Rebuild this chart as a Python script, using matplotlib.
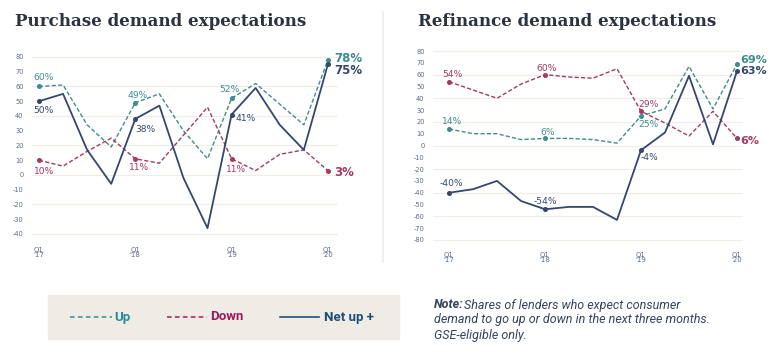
import matplotlib
matplotlib.use("Agg")
import matplotlib.pyplot as plt
from matplotlib.lines import Line2D
from matplotlib.patches import Rectangle

quarters = list(range(13))
tick_pos = [0, 4, 8, 12]
tick_labels = ["Q1\n'17", "Q1\n'18", "Q1\n'19", "Q1\n'20"]

purchase_up = [60, 61, 34, 19, 49, 55, 30, 11, 52, 62, 48, 34, 78]
purchase_down = [10, 6, 16, 25, 11, 8, 27, 46, 11, 3, 14, 17, 3]
purchase_net = [50, 55, 17, -6, 38, 47, -2, -36, 41, 59, 34, 17, 75]

refi_up = [14, 10, 10, 5, 6, 6, 5, 2, 25, 31, 67, 31, 69]
refi_down = [54, 47, 40, 52, 60, 58, 57, 65, 29, 19, 8, 29, 6]
refi_net = [-40, -37, -30, -47, -54, -52, -52, -63, -4, 11, 59, 1, 63]

C_UP = "#3f8c8e"
C_DOWN = "#a33a62"
C_NET = "#34486d"
TICK_C = "#5b6b86"
GRID_C = "#f1ece4"

fig = plt.figure(figsize=(7.74, 3.59), dpi=100)
W, H = 774, 359

def px_axes(l, t, r, b):
    return fig.add_axes([l / W, 1 - b / H, (r - l) / W, (b - t) / H])

ax1 = px_axes(32, 49.6, 338, 239.9)
ax2 = px_axes(433, 46.3, 743, 244.7)

def style(ax, ylim, xlim, yticks):
    ax.set_ylim(*ylim)
    ax.set_xlim(*xlim)
    for s in ax.spines.values():
        s.set_visible(False)
    ax.set_yticks(yticks)
    ax.set_yticklabels([str(v) for v in yticks], fontsize=4.8, color=TICK_C)
    ax.set_xticks(tick_pos)
    ax.set_xticklabels(tick_labels, fontsize=5, color=TICK_C, linespacing=0.85)
    ax.tick_params(length=0, pad=6)
    ax.tick_params(axis='x', pad=5)
    for v in yticks:
        if v % 20 == 0:
            ax.axhline(v, color=GRID_C, lw=0.8, zorder=0)

style(ax1, (-44, 85), (-0.29, 12.42), list(range(-40, 81, 10)))
style(ax2, (-84, 84), (-0.667, 12.25), list(range(-80, 81, 10)))

def draw(ax, up, down, net):
    ax.plot(quarters, up, color=C_UP, lw=1.0, ls=(0, (3, 1.6)), zorder=3)
    ax.plot(quarters, down, color=C_DOWN, lw=1.0, ls=(0, (3, 1.6)), zorder=3)
    ax.plot(quarters, net, color=C_NET, lw=1.3, zorder=4)
    for series, c in ((up, C_UP), (down, C_DOWN), (net, C_NET)):
        ax.plot(tick_pos, [series[i] for i in tick_pos], 'o', ms=2.6, color=c, zorder=5)

draw(ax1, purchase_up, purchase_down, purchase_net)
draw(ax2, refi_up, refi_down, refi_net)

def lab(ax, x, y, s, c, bold=False, ha='center', size=None):
    if size is None:
        size = 8.5 if bold else 6.6
    ax.text(x, y, s, color=c, fontsize=size, fontweight='bold' if bold else 'normal',
            ha=ha, va='center', clip_on=False, zorder=6)

# purchase labels
lab(ax1, 0.2, 65.8, f"{purchase_up[0]}%", C_UP)
lab(ax1, 0.2, 44, f"{purchase_net[0]}%", C_NET)
lab(ax1, 0.2, 2.7, f"{purchase_down[0]}%", C_DOWN)
lab(ax1, 4.11, 54, f"{purchase_up[4]}%", C_UP)
lab(ax1, 4.44, 31, f"{purchase_net[4]}%", C_NET)
lab(ax1, 4.15, 5, f"{purchase_down[4]}%", C_DOWN)
lab(ax1, 7.9, 58, f"{purchase_up[8]}%", C_UP)
lab(ax1, 8.6, 38, f"{purchase_net[8]}%", C_NET)
lab(ax1, 8.18, 3.4, f"{purchase_down[8]}%", C_DOWN)
lab(ax1, 12.27, 79, f"{purchase_up[12]}%", C_UP, bold=True, ha='left')
lab(ax1, 12.27, 71, f"{purchase_net[12]}%", C_NET, bold=True, ha='left')
lab(ax1, 12.27, 2, f"{purchase_down[12]}%", C_DOWN, bold=True, ha='left')

# refinance labels
lab(ax2, 0.15, 60, f"{refi_down[0]}%", C_DOWN)
lab(ax2, 0.13, 20.6, f"{refi_up[0]}%", C_UP)
lab(ax2, 0.1, -32, f"{refi_net[0]}%", C_NET)
lab(ax2, 4.05, 65, f"{refi_down[4]}%", C_DOWN)
lab(ax2, 4.1, 11, f"{refi_up[4]}%", C_UP)
lab(ax2, 4.0, -47, f"{refi_net[4]}%", C_NET)
lab(ax2, 8.3, 35, f"{refi_down[8]}%", C_DOWN)
lab(ax2, 8.3, 18, f"{refi_up[8]}%", C_UP)
lab(ax2, 8.35, -10.4, f"{refi_net[8]}%", C_NET)
lab(ax2, 12.15, 72, f"{refi_up[12]}%", C_UP, bold=True, ha='left', size=8)
lab(ax2, 12.15, 63, f"{refi_net[12]}%", C_NET, bold=True, ha='left', size=8)
lab(ax2, 12.15, 4.2, f"{refi_down[12]}%", C_DOWN, bold=True, ha='left', size=8)

# titles
TITLE_C = "#2b3240"
fig.text(15 / W, 1 - 21 / H, "Purchase demand expectations", fontsize=12.1, fontweight='bold',
         family='DejaVu Serif', color=TITLE_C, va='center', ha='left')
fig.text(418 / W, 1 - 21 / H, "Refinance demand expectations", fontsize=12.1, fontweight='bold',
         family='DejaVu Serif', color=TITLE_C, va='center', ha='left')

# separator
fig.add_artist(Line2D([383 / W, 383 / W], [1 - 12 / H, 1 - 262 / H], color="#ececec", lw=1.2))

# legend box
fig.add_artist(Rectangle((48 / W, 1 - 339 / H), (399 - 48) / W, (339 - 295) / H,
                         transform=fig.transFigure, color="#efebe5", zorder=0))
LEG_FONT = ['Roboto', 'DejaVu Sans']
ly = 1 - 317 / H
fig.add_artist(Line2D([70 / W, 112 / W], [ly, ly], color="#2f8f9a", lw=1.1, ls=(0, (3, 2.2))))
fig.text(114 / W, ly, "Up", color="#2a8a9c", fontsize=9.5, fontweight='bold', family=LEG_FONT, va='center')
fig.add_artist(Line2D([167 / W, 207 / W], [ly, ly], color="#a31d5e", lw=1.1, ls=(0, (3, 2.2))))
fig.text(210 / W, ly, "Down", color="#9c1a5c", fontsize=9.5, fontweight='bold', family=LEG_FONT, va='center')
fig.add_artist(Line2D([280 / W, 319 / W], [ly, ly], color="#22507c", lw=1.2))
fig.text(324 / W, ly, "Net up +", color="#1d4e7a", fontsize=9.5, fontweight='bold', family=LEG_FONT, va='center')

# note
NOTE_C = "#34435f"
NS = 9.0
t_note = fig.text(434 / W, 1 - 305 / H, "Note:", color=NOTE_C, fontsize=NS, fontweight='bold',
                  style='italic', family=LEG_FONT, va='center', ha='left')
renderer = fig.canvas.get_renderer()
bb = t_note.get_window_extent(renderer=renderer)
fig.text((bb.x1 + 0.5) / W, 1 - 305 / H, "Shares of lenders who expect consumer", color=NOTE_C,
         fontsize=NS, style='italic', family=LEG_FONT, va='center', ha='left')
fig.text(434 / W, 1 - 320 / H, "demand to go up or down in the next three months.", color=NOTE_C,
         fontsize=NS, style='italic', family=LEG_FONT, va='center', ha='left')
fig.text(434 / W, 1 - 335 / H, "GSE-eligible only.", color=NOTE_C, fontsize=NS, style='italic',
         family=LEG_FONT, va='center', ha='left')

fig.savefig("out.png", dpi=100, facecolor="white")
